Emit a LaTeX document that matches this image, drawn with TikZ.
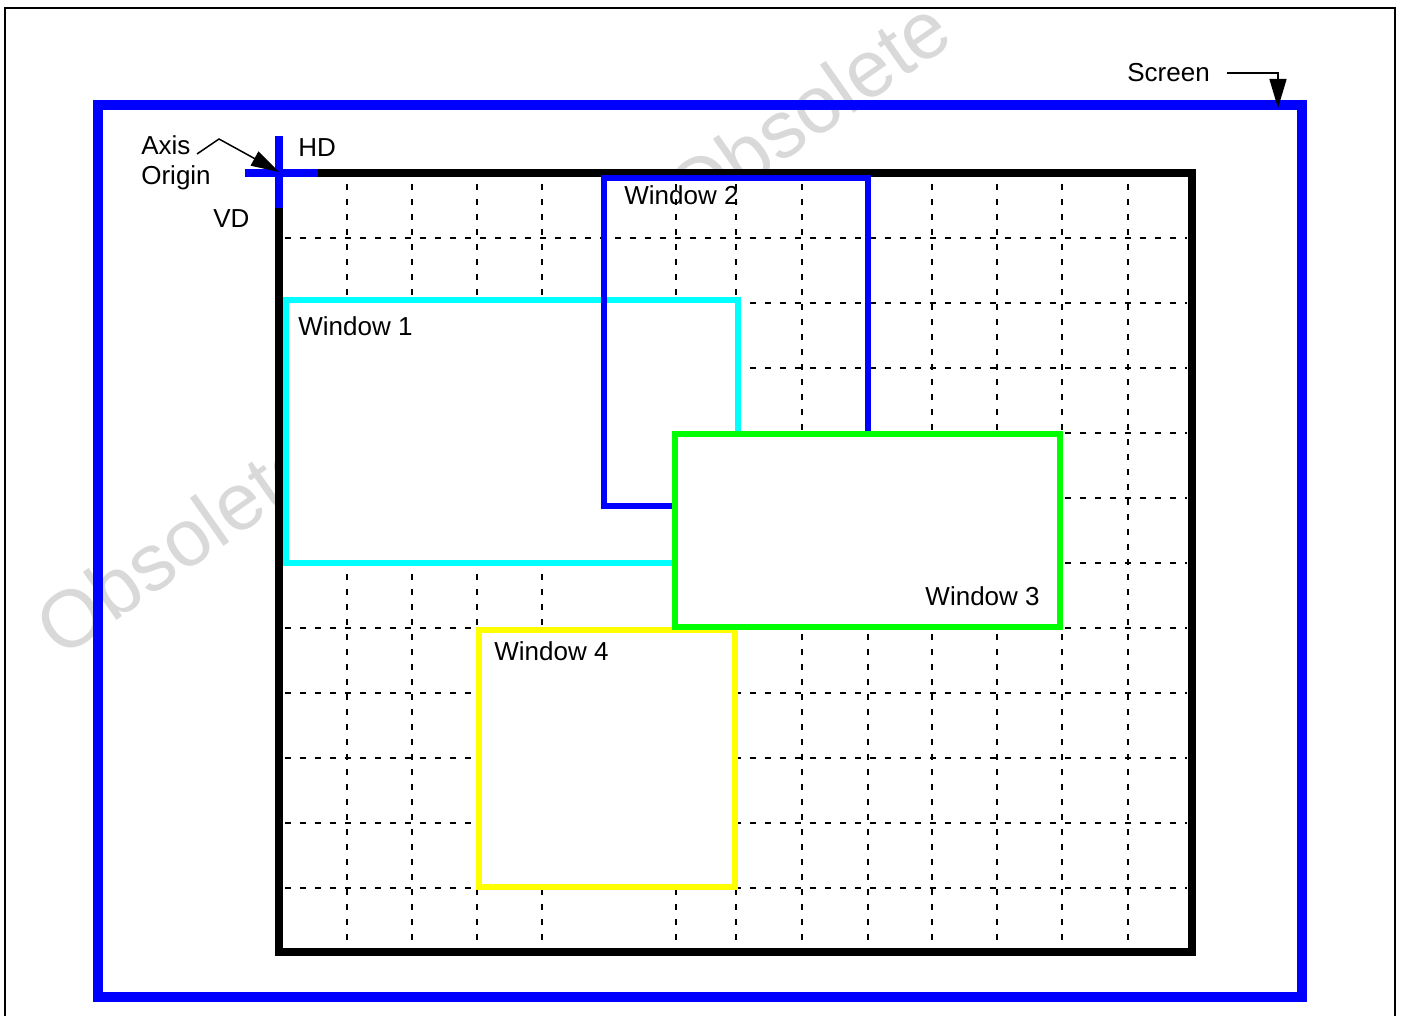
\documentclass[tikz,border=0pt]{standalone}
\usepackage{fontspec}
\setmainfont{Liberation Sans}
\usetikzlibrary{arrows.meta}

\definecolor{wcyan}{RGB}{0,255,255}
\definecolor{wyellow}{RGB}{255,255,0}
\definecolor{wgreen}{RGB}{0,255,0}
\definecolor{wblue}{RGB}{0,0,255}

\begin{document}
\begin{tikzpicture}[
    x=0.02cm, y=-0.02cm,
    lbl/.style={inner sep=0pt, anchor=base west,
                font=\fontsize{14.8pt}{17.6pt}\selectfont},
    wmark/.style={inner sep=0pt, anchor=base west, rotate=35, text=black!15,
                  font=\fontsize{46pt}{46pt}\selectfont},
    gridline/.style={line width=0.034cm, dash pattern=on 0.12cm off 0.18cm},
    win/.style={line width=0.12cm},
    pointer/.style={line width=0.03cm, -{Triangle[length=0.56cm, width=0.32cm]}}
]

\useasboundingbox (0,0) rectangle (1401,1016);

\node[wmark] (wm1) at (61,660) {Obsolete};
\node[wmark] (wm2) at (691,227) {Obsolete};

\draw[line width=0.04cm] (5,8) rectangle (1395,1040);

\draw[wblue, line width=0.2cm] (98,105) rectangle (1302,997);

\fill[white] (279,173) rectangle (1192,952);

\foreach \gx in {347,412,477,542,676,736,802,868,932,997,1062,1128}
    \draw[gridline] (\gx,184) -- (\gx,946);

\foreach \gy in {238,303,368,433,498,563,628,693,758,823,888}
    \draw[gridline] (285,\gy) -- (1187,\gy);

\draw[line width=0.17cm] (279,173) rectangle (1192,952);

\draw[win, wcyan, fill=white] (286,300) rectangle (738,563);
\node[lbl] (w1lbl) at (298,336) {Window 1};

\draw[win, wblue] (604,178) rectangle (868,506);
\node[lbl] (w2lbl) at (624,205) {Window 2};

\draw[win, wyellow, fill=white] (479,630) rectangle (735,887);
\node[lbl] (w4lbl) at (494,661) {Window 4};

\draw[win, wgreen, fill=white] (675,434) rectangle (1060,627);
\node[lbl, anchor=base east] (w3lbl) at (1040,606) {Window 3};

\draw[wblue, line width=0.165cm] (279,136) -- (279,208);
\draw[wblue, line width=0.165cm] (245,173) -- (318,173);
\coordinate (org) at (279,172);

\node[lbl, align=left] (axlbl) at (141,185) {Axis\\Origin};
\node[lbl] (hdlbl) at (298,157) {HD};
\node[lbl] (vdlbl) at (213,228) {VD};
\node[lbl] (scrlbl) at (1127,82) {Screen};

\coordinate (axtail) at (197,154);
\draw[pointer] (axtail) -- ++(22,-15) -- (org);

\coordinate (scrtip) at (1278,108);
\draw[pointer, -{Triangle[length=0.58cm, width=0.34cm]}]
    ([xshift=0.34cm]scrlbl.east) -| (scrtip);

\end{tikzpicture}
\end{document}
